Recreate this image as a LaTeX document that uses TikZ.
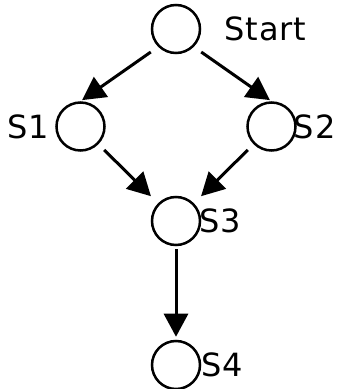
\documentclass[tikz,border=0pt]{standalone}
\usepackage{fontspec}
\setmainfont[LetterSpace=3]{DejaVu Sans}
\usetikzlibrary{arrows.meta,positioning}
\definecolor{ink}{HTML}{000000}
\tikzset{
  % --- nodes
  state/.style = {circle, draw=ink, line width=2.5pt, minimum size=48pt, inner sep=0pt},
  lbl/.style   = {font=\fontsize{32}{38}\selectfont, text=ink, inner sep=0pt},
  % --- edges
  e/.style     = {-{Triangle[length=23pt,width=24pt]}, line width=3pt, draw=ink},
}

\begin{document}
\begin{tikzpicture}[x=1pt,y=1pt]
  \useasboundingbox (0,0) rectangle (337,389);

  \node[state, label={[lbl,label distance=23pt]east:Start}] (start) at (176,360) {};
  \node[state, label={[lbl,label distance=6pt]west:S1}] (s1) at (80.5,262.5) {};
  \node[state, label={[lbl,label distance=-3pt]east:S2}] (s2) at (271.5,262.5) {};
  \node[state, label={[lbl,label distance=-2pt]east:S3}] (s3) at (176,168) {};
  \node[state, label={[lbl,label distance=0pt]east:S4}] (s4) at (176,24) {};

  \draw[e, shorten <=9pt, shorten >=2pt] (start.225) -- (s1.north);
  \draw[e, shorten <=9pt, shorten >=2pt] (start.-45) -- (s2.north);
  \draw[e, shorten <=8pt, shorten >=10pt] (s1) -- (s3);
  \draw[e, shorten <=8pt, shorten >=10pt] (s2) -- (s3);
  \draw[e, shorten <=3pt, shorten >=3pt] (s3) -- (s4);
\end{tikzpicture}
\end{document}
